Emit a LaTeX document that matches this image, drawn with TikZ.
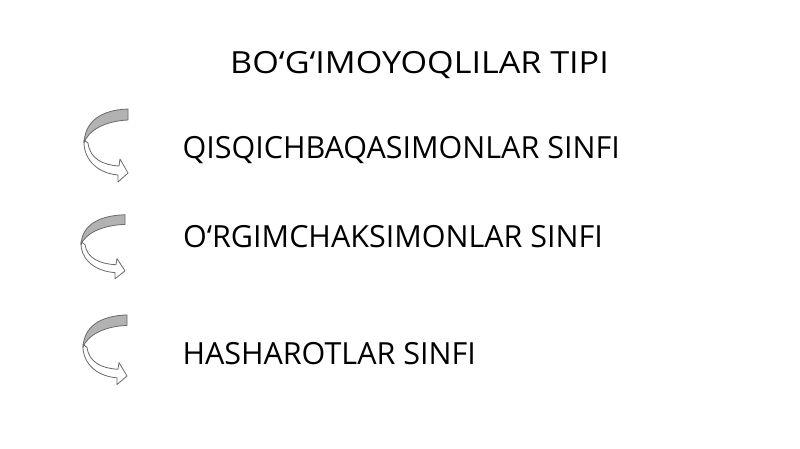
\documentclass[tikz,border=0pt]{standalone}
\usepackage{fontspec}
\setmainfont{Open Sans}
\definecolor{edge}{HTML}{6A6A6A}
\definecolor{band}{HTML}{B2B2B2}
\tikzset{
  lbl/.style={anchor=base west, inner sep=0pt, font=\fontsize{30.5}{36}\selectfont, text=black},
  pics/curvearrow/.style={code={
    \fill[white, draw=edge, line width=0.8pt, line join=round]
      (-46,33) .. controls (-47,50) and (-35,66) .. (-12,68)
      -- (-12,75) -- (-2,66) -- (-10,52) -- (-11,59)
      .. controls (-27,58) and (-40,52) .. (-42,36) -- cycle;
    \fill[band, draw=edge, line width=0.8pt, line join=round]
      (-2,2) .. controls (-30,3) and (-45,15) .. (-46,36)
      .. controls (-42,24) and (-26,14) .. (-2,13) -- cycle;
  }}
}
\begin{document}
\begin{tikzpicture}[x=1pt,y=-1pt]
\useasboundingbox (0,0) rectangle (800,449);
\fill[white] (0,0) rectangle (800,449);
\node[lbl] (title) at (230,74) {\scalebox{1.12}[1]{BO‘G‘IMOYOQLILAR TIPI}};
\node[lbl] (c1) at (182.3,159) {QISQICHBAQASIMONLAR SINFI};
\node[lbl] (c2) at (183,247) {O‘RGIMCHAKSIMONLAR SINFI};
\node[lbl] (c3) at (182.3,364) {HASHAROTLAR SINFI};
\pic (a1) at (130,107) {curvearrow};
\pic[yscale=57/65] (a2) at (127,213) {curvearrow};
\pic[yscale=62/65] (a3) at (129,313) {curvearrow};
\end{tikzpicture}
\end{document}
